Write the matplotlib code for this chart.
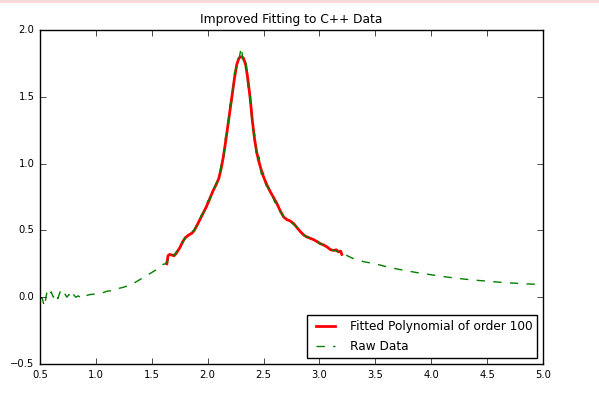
import matplotlib
matplotlib.use("Agg")
import matplotlib.pyplot as plt
from matplotlib.patches import Rectangle

# Raw data (green dashed)
raw_x = [0.50, 0.52, 0.54, 0.56, 0.58, 0.60, 0.62, 0.64, 0.66, 0.68, 0.70,
         0.72, 0.74, 0.76, 0.78, 0.80, 0.82, 0.84, 0.86, 0.88, 0.90,
         0.95, 1.00, 1.05, 1.10, 1.15, 1.20, 1.25, 1.30, 1.35, 1.40, 1.45,
         1.50, 1.55, 1.60,
         1.62, 1.64, 1.66, 1.68, 1.70, 1.72, 1.74, 1.76, 1.78, 1.80,
         1.82, 1.84, 1.86, 1.88, 1.90, 1.92, 1.94, 1.96, 1.98, 2.00,
         2.02, 2.04, 2.06, 2.08, 2.10, 2.12, 2.14, 2.16, 2.18, 2.20,
         2.22, 2.24, 2.26, 2.28, 2.30, 2.32, 2.34, 2.36, 2.38, 2.40,
         2.42, 2.44, 2.46, 2.48, 2.50, 2.52, 2.54, 2.56, 2.58, 2.60,
         2.62, 2.64, 2.66, 2.68, 2.70, 2.72, 2.74, 2.76, 2.78, 2.80,
         2.82, 2.84, 2.86, 2.88, 2.90, 2.92, 2.94, 2.96, 2.98, 3.00,
         3.02, 3.04, 3.06, 3.08, 3.10, 3.12, 3.14, 3.16, 3.18, 3.20,
         3.30, 3.40, 3.50, 3.60, 3.70, 3.80, 3.90, 4.00, 4.10, 4.20,
         4.30, 4.40, 4.50, 4.60, 4.70, 4.80, 4.90, 5.00]
raw_y = [0.00, -0.01, -0.07, 0.03, 0.00, 0.04, 0.00, 0.03, -0.01, 0.04, 0.01,
         0.03, 0.00, 0.02, -0.01, 0.02, 0.00, 0.01, 0.00, 0.02, 0.01,
         0.02, 0.025, 0.03, 0.045, 0.05, 0.065, 0.075, 0.09, 0.11, 0.135, 0.16,
         0.185, 0.21, 0.245,
         0.25, 0.27, 0.30, 0.33, 0.31, 0.34, 0.36, 0.40, 0.41, 0.45,
         0.46, 0.47, 0.49, 0.50, 0.54, 0.56, 0.61, 0.63, 0.66, 0.72,
         0.73, 0.79, 0.82, 0.86, 0.88, 0.99, 1.02, 1.20, 1.25, 1.44,
         1.48, 1.68, 1.72, 1.78, 1.87, 1.76, 1.78, 1.58, 1.52, 1.26,
         1.22, 1.02, 1.05, 0.92, 0.93, 0.84, 0.82, 0.78, 0.76, 0.71,
         0.70, 0.65, 0.63, 0.60, 0.59, 0.575, 0.57, 0.55, 0.54, 0.52,
         0.50, 0.48, 0.47, 0.45, 0.45, 0.44, 0.43, 0.42, 0.42, 0.40,
         0.40, 0.39, 0.38, 0.37, 0.36, 0.35, 0.35, 0.34, 0.34, 0.33,
         0.29, 0.265, 0.25, 0.228, 0.21, 0.195, 0.18, 0.168, 0.155, 0.145,
         0.135, 0.127, 0.12, 0.113, 0.107, 0.102, 0.098, 0.095]

# Fitted polynomial (red)
fit_x = [1.635, 1.645, 1.66, 1.68, 1.70, 1.72, 1.75, 1.78, 1.80, 1.83,
         1.86, 1.88, 1.90, 1.93, 1.96, 1.99, 2.02, 2.05, 2.08, 2.10,
         2.12, 2.14, 2.16, 2.18, 2.20, 2.22, 2.24, 2.26, 2.28, 2.30,
         2.32, 2.34, 2.36, 2.38, 2.40, 2.42, 2.44, 2.46, 2.48, 2.50,
         2.53, 2.56, 2.59, 2.62, 2.65, 2.68, 2.71, 2.74, 2.77, 2.80,
         2.83, 2.86, 2.89, 2.92, 2.95, 2.98, 3.01, 3.04, 3.07, 3.10,
         3.13, 3.15, 3.17, 3.19, 3.20]
fit_y = [0.25, 0.31, 0.32, 0.315, 0.31, 0.33, 0.37, 0.42, 0.445, 0.465,
         0.48, 0.50, 0.53, 0.58, 0.63, 0.68, 0.74, 0.80, 0.85, 0.89,
         0.96, 1.05, 1.16, 1.28, 1.40, 1.52, 1.64, 1.74, 1.79, 1.80,
         1.79, 1.74, 1.63, 1.49, 1.32, 1.18, 1.08, 1.01, 0.95, 0.90,
         0.84, 0.79, 0.745, 0.70, 0.645, 0.60, 0.58, 0.57, 0.55, 0.52,
         0.49, 0.465, 0.45, 0.44, 0.43, 0.415, 0.40, 0.39, 0.375, 0.355,
         0.35, 0.355, 0.34, 0.345, 0.32]

title = "Improved Fitting to C++ Data"
fit_label = "Fitted Polynomial of order 100"
raw_label = "Raw Data"

plt.style.use("classic")
fig = plt.figure(figsize=(5.99, 3.94), dpi=100, facecolor="white")
ax = fig.add_axes([40 / 599, 30 / 394, 503 / 599, 334 / 394])
ax.set_facecolor("white")

ax.plot(fit_x, fit_y, color="red", linewidth=2, label=fit_label)
ax.plot(raw_x, raw_y, color="green", linestyle="--", linewidth=1, label=raw_label)

ax.set_xlim(0.5, 5.0)
ax.set_ylim(-0.5, 2.0)
ax.set_xticks([0.5, 1.0, 1.5, 2.0, 2.5, 3.0, 3.5, 4.0, 4.5, 5.0])
ax.set_yticks([-0.5, 0.0, 0.5, 1.0, 1.5, 2.0])
ax.tick_params(labelsize=7.2, length=4, direction="in", top=True, right=True)
ax.set_title(title, fontsize=8.8)
leg = ax.legend(loc="lower right", fontsize=8.7, frameon=True, fancybox=False,
                labelspacing=0.6, borderpad=0.4, handlelength=2.2,
                handletextpad=0.9, borderaxespad=0.5)
leg.get_frame().set_edgecolor("black")

fig.patches.append(Rectangle((0, 1 - 3 / 394), 1, 3 / 394, transform=fig.transFigure,
                             facecolor="#fcdada", edgecolor="none"))

fig.savefig("out.png", dpi=100, facecolor="white")
